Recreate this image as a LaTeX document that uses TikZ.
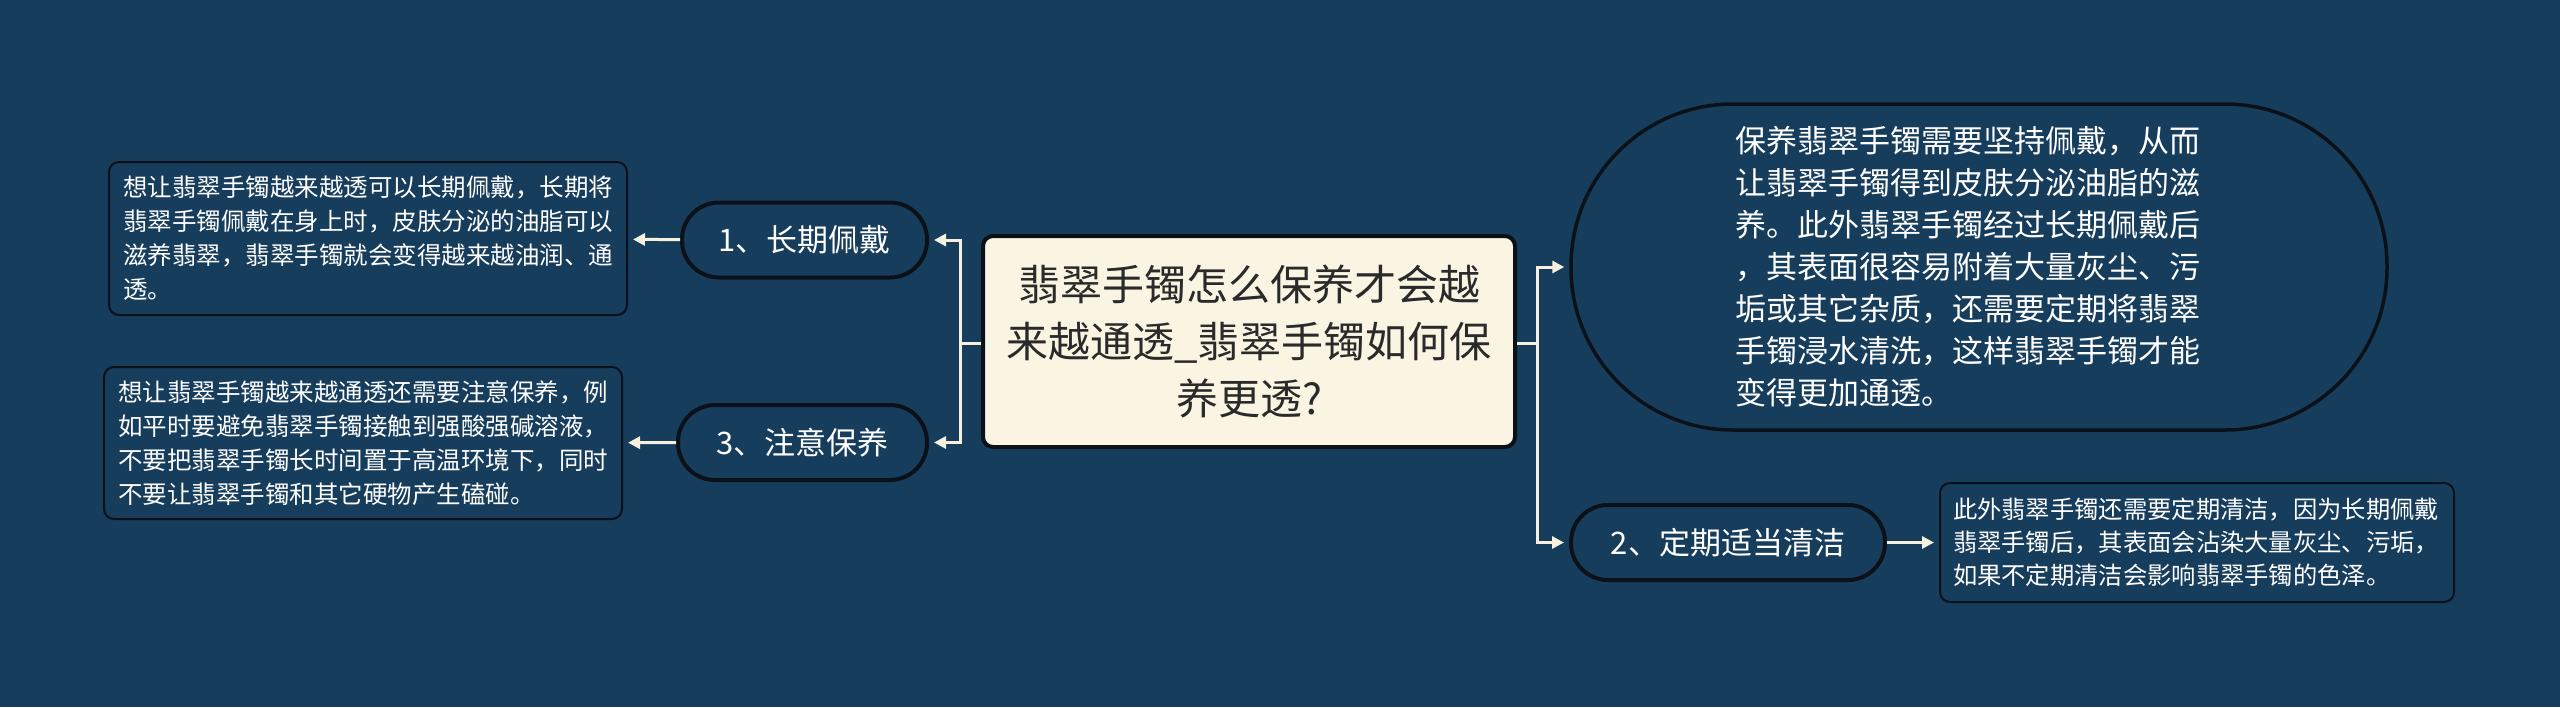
\documentclass[tikz,border=0pt]{standalone}
\usepackage{fontspec}
\setmainfont{Noto Sans CJK SC}
\usetikzlibrary{arrows.meta,calc}
\definecolor{bg}{HTML}{173D5D}
\definecolor{cream}{HTML}{FAF5E2}
\definecolor{line}{HTML}{F6F1DE}
\definecolor{edge}{HTML}{0B1118}
\definecolor{dtext}{HTML}{2A2A2A}
\tikzset{
  topic/.style={draw=edge, line width=4pt, fill=cream, rounded corners=10pt, text=dtext,
    font=\fontsize{42}{57}\selectfont, align=center, inner sep=0pt},
  sub/.style={draw=edge, line width=4pt, fill=bg, text=white,
    font=\fontsize{31}{40}\selectfont, inner sep=0pt, minimum height=75pt, rounded corners=37pt},
  note/.style={draw=edge, line width=2pt, fill=bg, text=white, rounded corners=10pt,
    font=\fontsize{24.5}{34}\selectfont, align=left, inner sep=0pt},
  conn/.style={draw=line, line width=3pt},
  arr/.style={conn, -{Triangle[length=12pt,width=12pt]}, shorten >=5pt}
}
\begin{document}
\begin{tikzpicture}[x=1pt,y=-1pt]
\fill[bg] (0,0) rectangle (2560,707);
\useasboundingbox (0,0) rectangle (2560,707);

% central topic
\node[topic, minimum width=532pt, minimum height=211pt] (c) at (1249,341.5)
  {翡翠手镯怎么保养才会越\\来越通透\_翡翠手镯如何保\\养更透?};

% left branches
\node[sub, minimum width=245pt] (n1) at (804.5,240) {1、长期佩戴};
\node[sub, minimum width=249pt] (n3) at (802.5,442.5) {3、注意保养};

\node[note, minimum width=518pt, minimum height=153pt, text width=490pt] (t1) at (368,238.5)
  {想让翡翠手镯越来越透可以长期佩戴，长期将\\翡翠手镯佩戴在身上时，皮肤分泌的油脂可以\\滋养翡翠，翡翠手镯就会变得越来越油润、通\\透。};
\node[note, minimum width=518pt, minimum height=152pt, text width=490pt] (t3) at (363,443)
  {想让翡翠手镯越来越通透还需要注意保养，例\\如平时要避免翡翠手镯接触到强酸强碱溶液，\\不要把翡翠手镯长时间置于高温环境下，同时\\不要让翡翠手镯和其它硬物产生磕碰。};

% right branches
\node[draw=edge, line width=3.5pt, fill=bg, text=white, rounded corners=162pt,
  minimum width=816pt, minimum height=326pt, inner sep=0pt, text width=488pt, align=left,
  font=\fontsize{31}{42}\selectfont] (st) at (1979,267)
  {保养翡翠手镯需要坚持佩戴，从而\\让翡翠手镯得到皮肤分泌油脂的滋\\养。此外翡翠手镯经过长期佩戴后\\，其表面很容易附着大量灰尘、污\\垢或其它杂质，还需要定期将翡翠\\手镯浸水清洗，这样翡翠手镯才能\\变得更加通透。};

\node[sub, minimum width=314pt] (n2) at (1728,542.5) {2、定期适当清洁};

\node[note, minimum width=514pt, minimum height=119pt, text width=488pt,
  font=\fontsize{24.3}{33}\selectfont] (t2) at (2197,542.5)
  {此外翡翠手镯还需要定期清洁，因为长期佩戴\\翡翠手镯后，其表面会沾染大量灰尘、污垢，\\如果不定期清洁会影响翡翠手镯的色泽。};

% connectors
\coordinate (lj) at ($(c.west)+(-21,1.5)$);
\coordinate (rj) at ($(c.east)+(20,1.5)$);
\draw[conn] ($(c.west)+(0,1.5)$) -- (lj);
\draw[arr] (lj) |- (n1);
\draw[arr] (lj) |- (n3);
\draw[conn] ($(c.east)+(0,1.5)$) -- (rj);
\draw[arr] (rj) |- (st);
\draw[arr] (rj) |- (n2);
\draw[arr] (n1) -- (t1);
\draw[arr] (n3) -- (t3);
\draw[arr] (n2) -- (t2);
\end{tikzpicture}
\end{document}
